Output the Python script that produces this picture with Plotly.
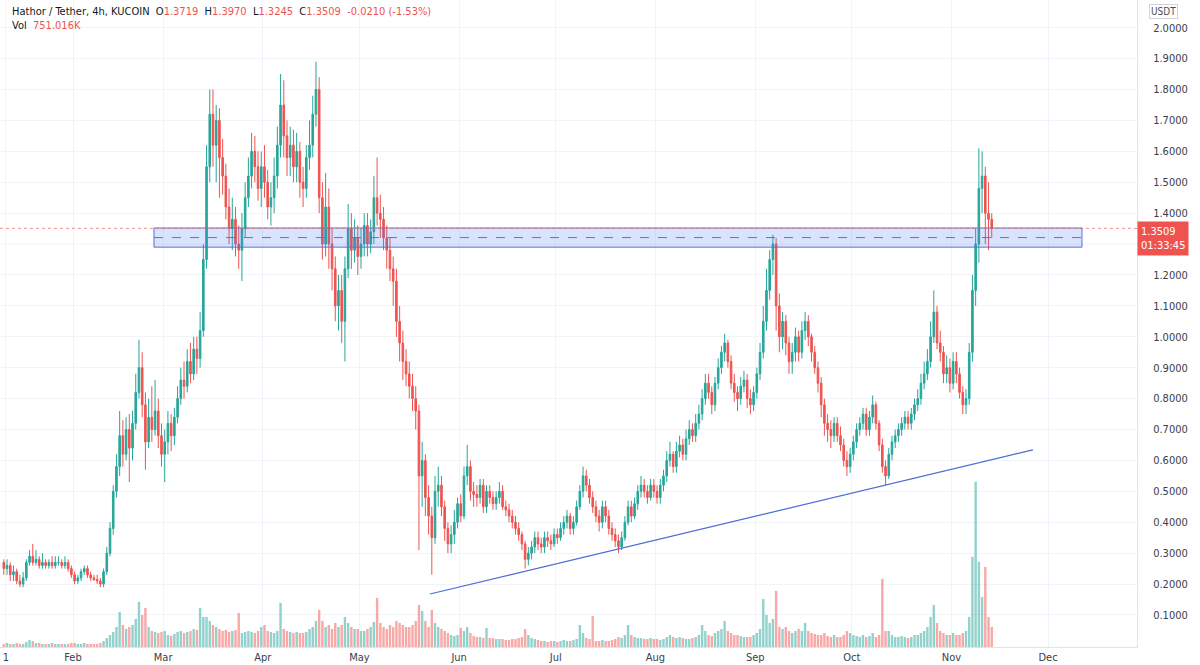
import pandas as pd
import plotly.graph_objects as go

# ---------------- data (daily candles) ----------------
start_day = "2021-01-10 12:00"

opens = [
0.27,0.25,0.26,0.23,0.24,0.21,0.20, 0.22,0.27,0.29,0.27,0.28,0.26,0.27,
0.26,0.27,0.26,0.27,0.27,0.26,0.27, 0.25,0.23,0.21,0.22,0.24,0.25,0.23,
0.22,0.215,0.21,0.20,0.24,0.30,0.38, 0.50,0.58,0.68,0.62,0.70,0.64,0.72,
0.82,0.90,0.78,0.66,0.74,0.70,0.76, 0.68,0.62,0.66,0.72,0.68,0.74,0.80,
0.86,0.84,0.92,0.88,0.96,0.93,1.02, 1.25,1.55,1.72,1.62,1.70,1.58,1.52,
1.42,1.35,1.38,1.30,1.28,1.35,1.45, 1.52,1.60,1.55,1.48,1.55,1.50,1.42,
1.45,1.52,1.62,1.75,1.65,1.58,1.62, 1.55,1.60,1.50,1.48,1.58,1.62,1.72,
1.80,1.45,1.30,1.42,1.30,1.22,1.10, 1.15,1.05,1.22,1.35,1.28,1.32,1.26,
1.30,1.36,1.30,1.34,1.45,1.40,1.38, 1.32,1.28,1.22,1.18,1.05,0.98,0.92,
0.88,0.84,0.80,0.76,0.55,0.60,0.48, 0.42,0.35,0.50,0.52,0.45,0.38,0.33,
0.36,0.40,0.46,0.42,0.55,0.58,0.50, 0.49,0.48,0.52,0.45,0.50,0.48,0.46,
0.48,0.50,0.45,0.44,0.42,0.40,0.38, 0.36,0.33,0.28,0.30,0.32,0.35,0.33,
0.32,0.35,0.34,0.33,0.36,0.35,0.38, 0.40,0.42,0.38,0.40,0.45,0.50,0.55,
0.52,0.48,0.45,0.42,0.40,0.45,0.42, 0.38,0.36,0.34,0.32,0.35,0.40,0.45,
0.42,0.46,0.50,0.52,0.50,0.48,0.52, 0.50,0.48,0.52,0.55,0.60,0.62,0.58,
0.63,0.65,0.62,0.67,0.70,0.68,0.72, 0.75,0.80,0.85,0.82,0.78,0.85,0.90,
0.95,0.98,0.92,0.85,0.82,0.80,0.84, 0.86,0.80,0.78,0.82,0.88,0.95,1.05,
1.15,1.25,1.30,1.10,1.00,1.05,0.98, 0.92,0.95,1.00,0.95,1.02,1.05,1.00,
0.95,0.90,0.85,0.78,0.72,0.70,0.68, 0.72,0.68,0.65,0.60,0.58,0.62,0.66,
0.70,0.72,0.75,0.70,0.74,0.78,0.72, 0.65,0.58,0.55,0.62,0.66,0.68,0.70,
0.72,0.74,0.72,0.75,0.78,0.80,0.85, 0.88,0.92,1.00,1.08,0.98,0.95,0.88,
0.90,0.85,0.92,0.88,0.82,0.78,0.80, 0.95,1.15,1.30,1.48,1.52,1.40,1.38,
]
highs = [
0.28,0.28,0.27,0.26,0.25,0.23,0.24, 0.28,0.31,0.33,0.31,0.29,0.30,0.28,
0.28,0.29,0.29,0.29,0.28,0.29,0.28, 0.26,0.24,0.23,0.25,0.26,0.26,0.24,
0.23,0.23,0.22,0.25,0.32,0.40,0.52, 0.62,0.76,0.73,0.74,0.75,0.76,0.88,
0.99,0.95,0.82,0.80,0.84,0.86,0.80, 0.72,0.70,0.76,0.75,0.77,0.84,0.90,
0.92,0.96,0.98,1.00,1.00,1.08,1.30, 1.62,1.80,1.80,1.75,1.74,1.64,1.56,
1.48,1.45,1.42,1.36,1.40,1.50,1.58, 1.66,1.65,1.60,1.60,1.62,1.54,1.50,
1.58,1.68,1.85,1.83,1.70,1.68,1.67, 1.66,1.63,1.55,1.62,1.70,1.78,1.89,
1.84,1.50,1.53,1.48,1.35,1.26,1.20, 1.20,1.26,1.43,1.40,1.38,1.36,1.35,
1.40,1.40,1.38,1.52,1.58,1.46,1.42, 1.36,1.32,1.26,1.22,1.10,1.02,0.96,
0.92,0.88,0.84,0.78,0.66,0.62,0.52, 0.45,0.55,0.58,0.55,0.47,0.40,0.39,
0.44,0.48,0.49,0.58,0.65,0.60,0.53, 0.52,0.54,0.54,0.52,0.52,0.50,0.50,
0.53,0.52,0.47,0.46,0.44,0.42,0.40, 0.37,0.34,0.32,0.34,0.37,0.37,0.35,
0.37,0.37,0.36,0.38,0.38,0.40,0.42, 0.44,0.43,0.42,0.47,0.52,0.58,0.57,
0.54,0.50,0.47,0.44,0.47,0.47,0.44, 0.40,0.38,0.36,0.37,0.42,0.47,0.47,
0.48,0.52,0.55,0.54,0.52,0.54,0.54, 0.52,0.54,0.57,0.63,0.66,0.63,0.66,
0.68,0.67,0.70,0.73,0.72,0.75,0.78, 0.83,0.88,0.88,0.84,0.87,0.93,0.97,
1.01,0.99,0.94,0.88,0.84,0.87,0.89, 0.88,0.83,0.84,0.90,0.98,1.10,1.22,
1.28,1.33,1.32,1.14,1.08,1.07,1.00, 0.98,1.03,1.02,1.05,1.08,1.07,1.01,
0.97,0.92,0.87,0.80,0.75,0.73,0.74, 0.74,0.71,0.67,0.63,0.64,0.68,0.72,
0.74,0.77,0.77,0.76,0.81,0.79,0.73, 0.67,0.60,0.64,0.68,0.70,0.72,0.74,
0.76,0.76,0.77,0.80,0.83,0.88,0.92, 0.96,1.05,1.15,1.10,1.02,0.97,0.94,
0.93,0.95,0.95,0.90,0.84,0.83,0.98, 1.20,1.35,1.61,1.60,1.55,1.50,1.40,
]
lows = [
0.23,0.23,0.21,0.21,0.20,0.19,0.19, 0.21,0.26,0.26,0.26,0.25,0.25,0.25,
0.25,0.25,0.25,0.26,0.25,0.25,0.24, 0.22,0.20,0.20,0.21,0.23,0.22,0.21,
0.21,0.20,0.19,0.19,0.23,0.29,0.36, 0.48,0.55,0.58,0.60,0.53,0.60,0.70,
0.80,0.74,0.57,0.64,0.66,0.68,0.64, 0.58,0.53,0.62,0.63,0.65,0.72,0.78,
0.80,0.82,0.85,0.86,0.88,0.90,1.00, 1.22,1.50,1.55,1.50,1.45,1.46,1.38,
1.30,1.28,1.26,1.22,1.18,1.32,1.42, 1.48,1.50,1.44,1.42,1.45,1.38,1.36,
1.40,1.48,1.58,1.58,1.52,1.52,1.50, 1.50,1.45,1.42,1.45,1.54,1.58,1.68,
1.40,1.25,1.26,1.22,1.15,1.05,1.02, 0.98,0.92,1.19,1.22,1.24,1.20,1.22,
1.26,1.26,1.27,1.30,1.36,1.32,1.28, 1.22,1.18,1.10,1.00,0.92,0.86,0.84,
0.80,0.76,0.70,0.31,0.45,0.42,0.36, 0.23,0.33,0.45,0.42,0.34,0.30,0.30,
0.33,0.38,0.40,0.41,0.52,0.47,0.45, 0.45,0.46,0.43,0.43,0.46,0.44,0.44,
0.46,0.44,0.42,0.40,0.38,0.36,0.34, 0.31,0.25,0.26,0.28,0.30,0.31,0.30,
0.30,0.32,0.31,0.32,0.33,0.34,0.36, 0.38,0.36,0.36,0.39,0.44,0.48,0.50,
0.46,0.43,0.40,0.37,0.38,0.40,0.36, 0.34,0.32,0.30,0.31,0.34,0.39,0.40,
0.41,0.44,0.48,0.48,0.46,0.47,0.48, 0.46,0.46,0.50,0.53,0.58,0.56,0.56,
0.61,0.60,0.60,0.65,0.66,0.66,0.70, 0.73,0.78,0.80,0.75,0.76,0.83,0.88,
0.92,0.90,0.83,0.79,0.76,0.78,0.82, 0.77,0.75,0.76,0.80,0.86,0.93,1.02,
1.12,1.20,1.02,0.95,0.96,0.94,0.88, 0.88,0.92,0.92,0.93,0.99,0.97,0.92,
0.88,0.82,0.74,0.68,0.66,0.64,0.66, 0.66,0.63,0.58,0.55,0.56,0.60,0.64,
0.68,0.70,0.68,0.68,0.72,0.70,0.63, 0.56,0.52,0.54,0.60,0.64,0.66,0.68,
0.70,0.70,0.70,0.73,0.76,0.78,0.83, 0.86,0.90,0.98,0.96,0.92,0.85,0.85,
0.82,0.83,0.85,0.80,0.75,0.75,0.78, 0.92,1.10,1.24,1.40,1.30,1.28,1.32,
]
closes = [
0.25,0.26,0.23,0.24,0.21,0.20,0.22, 0.27,0.29,0.27,0.28,0.26,0.27,0.26,
0.27,0.26,0.27,0.27,0.26,0.27,0.25, 0.23,0.21,0.22,0.24,0.25,0.23,0.22,
0.215,0.21,0.20,0.24,0.30,0.38,0.50, 0.58,0.68,0.62,0.70,0.64,0.72,0.82,
0.90,0.78,0.66,0.74,0.70,0.76,0.68, 0.62,0.66,0.72,0.68,0.74,0.80,0.86,
0.84,0.92,0.88,0.96,0.93,1.02,1.25, 1.55,1.72,1.62,1.70,1.58,1.52,1.42,
1.35,1.38,1.30,1.28,1.35,1.45,1.52, 1.60,1.55,1.48,1.55,1.50,1.42,1.45,
1.52,1.62,1.75,1.65,1.58,1.62,1.55, 1.60,1.50,1.48,1.58,1.62,1.72,1.80,
1.45,1.30,1.42,1.30,1.22,1.10,1.15, 1.05,1.22,1.35,1.28,1.32,1.26,1.30,
1.36,1.30,1.34,1.45,1.40,1.38,1.32, 1.28,1.22,1.18,1.05,0.98,0.92,0.88,
0.84,0.80,0.76,0.55,0.60,0.48,0.42, 0.35,0.50,0.52,0.45,0.38,0.33,0.36,
0.40,0.46,0.42,0.55,0.58,0.50,0.49, 0.48,0.52,0.45,0.50,0.48,0.46,0.48,
0.50,0.45,0.44,0.42,0.40,0.38,0.36, 0.33,0.28,0.30,0.32,0.35,0.33,0.32,
0.35,0.34,0.33,0.36,0.35,0.38,0.40, 0.42,0.38,0.40,0.45,0.50,0.55,0.52,
0.48,0.45,0.42,0.40,0.45,0.42,0.38, 0.36,0.34,0.32,0.35,0.40,0.45,0.42,
0.46,0.50,0.52,0.50,0.48,0.52,0.50, 0.48,0.52,0.55,0.60,0.62,0.58,0.63,
0.65,0.62,0.67,0.70,0.68,0.72,0.75, 0.80,0.85,0.82,0.78,0.85,0.90,0.95,
0.98,0.92,0.85,0.82,0.80,0.84,0.86, 0.80,0.78,0.82,0.88,0.95,1.05,1.15,
1.25,1.30,1.10,1.00,1.05,0.98,0.92, 0.95,1.00,0.95,1.02,1.05,1.00,0.95,
0.90,0.85,0.78,0.72,0.70,0.68,0.72, 0.68,0.65,0.60,0.58,0.62,0.66,0.70,
0.72,0.75,0.70,0.74,0.78,0.72,0.65, 0.58,0.55,0.62,0.66,0.68,0.70,0.72,
0.74,0.72,0.75,0.78,0.80,0.85,0.88, 0.92,1.00,1.08,0.98,0.95,0.88,0.90,
0.85,0.92,0.88,0.82,0.78,0.80,0.95, 1.15,1.30,1.48,1.52,1.40,1.38,1.3509,
]
volume_m = [
0.3,0.4,0.3,0.3,0.4,0.3,0.3, 0.5,0.7,0.6,0.4,0.4,0.3,0.3,
0.3,0.4,0.3,0.3,0.3,0.3,0.3, 0.4,0.4,0.3,0.3,0.4,0.3,0.3,
0.3,0.3,0.4,0.6,0.9,1.2,1.5, 2.0,3.5,2.2,1.8,2.0,2.2,2.8,
4.5,3.2,3.9,2.0,1.6,1.5,1.4, 1.5,1.6,1.2,1.1,1.3,1.5,1.6,
1.4,1.5,1.6,1.8,1.7,3.9,3.0, 3.0,2.6,2.2,2.0,1.8,1.6,1.7,
1.5,1.6,1.7,3.4,1.4,1.5,1.6, 1.5,1.4,1.6,2.0,2.2,1.6,1.5,
1.4,1.6,4.4,1.8,1.6,1.5,1.4, 1.5,1.4,1.4,1.5,1.8,2.0,2.6,
3.7,2.6,2.0,2.2,1.8,2.4,2.0, 2.2,3.0,2.4,2.0,1.8,1.8,1.6,
1.6,1.8,2.0,2.5,4.9,2.4,2.0, 1.8,2.2,2.0,2.6,2.4,2.2,2.0,
2.0,2.2,2.6,4.2,3.6,2.6,2.0, 3.7,2.4,2.0,1.8,1.6,1.4,1.2,
1.1,1.2,1.9,1.6,2.0,1.4,1.1, 1.0,1.0,0.9,1.9,0.9,0.9,0.8,
0.8,0.8,0.7,0.7,0.8,0.8,0.9, 1.0,1.8,1.2,0.9,0.8,0.7,0.6,
0.6,0.5,0.6,0.6,0.5,0.6,0.7, 0.6,0.6,0.7,0.8,2.2,1.4,0.9,
0.8,3.1,0.6,0.6,0.7,0.6,0.6, 0.7,0.8,1.0,0.9,1.2,2.2,1.2,
1.0,0.9,0.9,0.8,0.8,0.9,0.8, 0.8,0.7,0.8,1.0,1.2,1.0,0.9,
1.0,0.9,0.8,0.8,0.9,1.0,1.2, 2.2,1.6,1.2,1.1,1.4,1.6,1.8,
2.6,1.6,1.4,1.2,1.2,1.1,1.0, 1.0,1.0,1.2,1.4,1.8,4.8,3.2,
2.4,2.8,5.6,2.0,1.8,2.0,1.6, 1.4,1.6,1.8,1.6,2.4,1.6,1.4,
1.3,1.2,1.2,1.4,1.1,1.0,1.2, 1.0,1.0,1.2,1.6,1.4,1.2,1.1,
1.0,1.2,1.0,1.1,1.4,1.0,1.2, 6.8,1.6,1.6,1.2,1.0,1.0,1.1,
1.0,0.9,1.0,1.2,1.2,1.4,1.6, 2.0,3.0,4.2,2.4,1.6,1.4,1.2,
1.2,1.4,1.2,1.2,1.4,1.6,3.0, 9.0,16.5,8.5,5.0,8.0,3.0,2.0,
]

month_ticks = ["2021-01-11 04:00", "2021-02-01", "2021-03-01", "2021-04-01", "2021-05-01",
               "2021-06-01", "2021-07-01", "2021-08-01", "2021-09-01", "2021-10-01",
               "2021-11-01", "2021-12-01"]
month_labels = ["1", "Feb", "Mar", "Apr", "May", "Jun", "Jul", "Aug", "Sep", "Oct", "Nov", "Dec"]
# 1.3000 is hidden behind the last-price label in the reference
price_ticks = [0.1, 0.2, 0.3, 0.4, 0.5, 0.6, 0.7, 0.8, 0.9, 1.0, 1.1, 1.2,
               1.4, 1.5, 1.6, 1.7, 1.8, 1.9, 2.0]
hidden_grid = 1.3

zone_low, zone_mid, zone_high = 1.290, 1.321, 1.352
zone_start, zone_end = "2021-02-26 04:00", "2021-12-11 13:00"
trend_start, trend_end = ("2021-05-22 22:30", 0.168), ("2021-11-26 07:00", 0.634)
last_price = 1.3509

# ---------------- figure ----------------
dates = pd.date_range(start_day, periods=len(closes), freq="D")
UP, DN = "#26a69a", "#ef5350"
UPV, DNV = "rgba(38,166,154,0.5)", "rgba(239,83,80,0.5)"
vol_colors = [UPV if c >= o else DNV for o, c in zip(opens, closes)]

FONT = "Liberation Sans Narrow, DejaVu Sans Condensed, Roboto Condensed, Lato, sans-serif"
TXT = "#131722"
GRID = "#f0f3fa"

fig = go.Figure()
fig.add_trace(go.Bar(x=dates, y=volume_m, marker_color=vol_colors, marker_line_width=0,
                     yaxis="y2", showlegend=False, hoverinfo="skip"))
fig.add_trace(go.Candlestick(
    x=dates, open=opens, high=highs, low=lows, close=closes,
    increasing=dict(line=dict(color=UP, width=1), fillcolor=UP),
    decreasing=dict(line=dict(color=DN, width=1), fillcolor=DN),
    whiskerwidth=0, showlegend=False, hoverinfo="skip"))

shapes = [
    dict(type="line", xref="paper", yref="y", x0=0, x1=1, y0=hidden_grid, y1=hidden_grid,
         line=dict(color=GRID, width=1), layer="below"),
    dict(type="rect", xref="x", yref="y", x0=zone_start, x1=zone_end, y0=zone_low, y1=zone_high,
         fillcolor="rgba(70,115,240,0.2)", line=dict(color="#5274d8", width=1), layer="above"),
    dict(type="line", xref="x", yref="y", x0=zone_start, x1=zone_end, y0=zone_mid, y1=zone_mid,
         line=dict(color="#5274d8", width=1, dash="dash")),
    dict(type="line", xref="paper", yref="y", x0=0, x1=1, y0=last_price, y1=last_price,
         line=dict(color="rgba(220,110,110,0.75)", width=1, dash="dot")),
    dict(type="line", xref="x", yref="y", x0=trend_start[0], y0=trend_start[1],
         x1=trend_end[0], y1=trend_end[1], line=dict(color="#4a6cd4", width=1.2)),
]

red_span = "<span style='color:#ef5350'>{}</span>"
header1 = ("Hathor / Tether, 4h, KUCOIN&nbsp;&nbsp;O" + red_span.format("1.3719") +
           "&nbsp;&nbsp;H" + red_span.format("1.3970") +
           "&nbsp;&nbsp;L" + red_span.format("1.3245") +
           "&nbsp;&nbsp;C" + red_span.format("1.3509") +
           "&nbsp;&nbsp;" + red_span.format("-0.0210 (-1.53%)"))
header2 = "Vol&nbsp;&nbsp;" + red_span.format("751.016K")

annotations = [
    dict(xref="paper", yref="paper", x=0, y=1, xanchor="left", yanchor="top", xshift=10, yshift=-3,
         text=header1, showarrow=False, font=dict(family=FONT, size=11, color=TXT)),
    dict(xref="paper", yref="paper", x=0, y=1, xanchor="left", yanchor="top", xshift=10, yshift=-17,
         text=header2, showarrow=False, font=dict(family=FONT, size=11, color=TXT)),
    dict(xref="paper", yref="y", x=1, y=2.1, xanchor="left", yanchor="middle", xshift=13,
         text="2.1000", showarrow=False, font=dict(family=FONT, size=11, color="#4a4e59")),
    dict(xref="paper", yref="paper", x=1, y=1, xanchor="left", yanchor="top", xshift=12, yshift=-4,
         text="USDT", showarrow=False, font=dict(family=FONT, size=10, color="#4a4e59"),
         bgcolor="white", bordercolor="#d1d4dc", borderwidth=1, borderpad=1),
    dict(xref="paper", yref="y", x=1, y=last_price, xanchor="left", yanchor="top", yshift=7,
         text="1.3509<br>01:33:45", align="left", showarrow=False,
         font=dict(family=FONT, size=11, color="white"),
         bgcolor="#ef5350", borderpad=3),
]

fig.update_layout(
    width=1200, height=665,
    margin=dict(l=0, r=63, t=0, b=18),
    paper_bgcolor="white", plot_bgcolor="white",
    bargap=0.25,
    hovermode=False,
    shapes=shapes, annotations=annotations,
    xaxis=dict(type="date", range=["2021-01-09 07:34", "2021-12-28 15:21"],
               tickvals=month_ticks, ticktext=month_labels,
               showgrid=True, gridcolor=GRID, gridwidth=1,
               showline=True, linecolor="#e0e3eb", linewidth=1,
               ticks="", tickfont=dict(family=FONT, size=11, color="#3a3e4a"),
               rangeslider=dict(visible=False), fixedrange=True),
    yaxis=dict(side="right", range=[-0.0036, 2.0896], tickvals=price_ticks, tickformat=".4f",
               showgrid=True, gridcolor=GRID, gridwidth=1, zeroline=False,
               showline=True, linecolor="#e0e3eb", linewidth=1,
               ticks="outside", ticklen=13, tickcolor="rgba(0,0,0,0)",
               tickfont=dict(family=FONT, size=11, color="#3a3e4a")),
    yaxis2=dict(overlaying="y", range=[0, 64.6], visible=False, fixedrange=True),
)

fig.write_html("out.html")
